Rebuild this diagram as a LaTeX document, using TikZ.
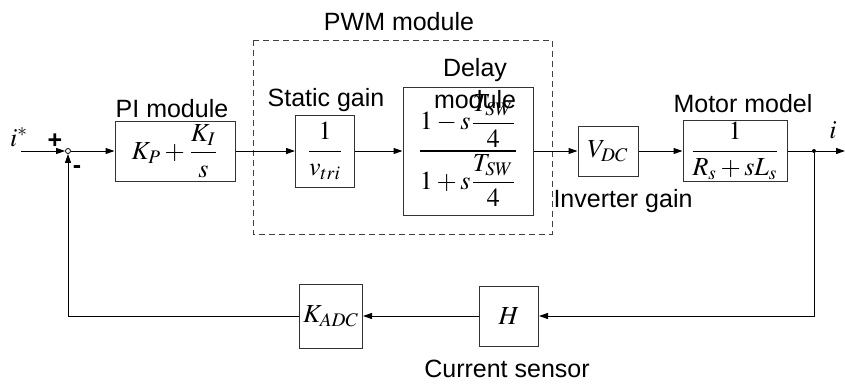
\documentclass[tikz,border=0pt]{standalone}
\usepackage{amsmath}
\usepackage{mathptmx}
\usepackage[no-math]{fontspec}
\setmainfont{Liberation Sans}
\usetikzlibrary{arrows.meta, positioning}

\begin{document}
\begin{tikzpicture}[
			x=0.5pt, y=-0.5pt,
			block/.style={draw=black!80, line width=0.5pt, inner sep=1pt, font=\fontsize{13}{15}\selectfont},
			arrow/.style={-{Triangle[length=4.5pt, width=3pt]}, line width=0.5pt},
			wire/.style={line width=0.5pt},
			caption/.style={font=\fontsize{12.5}{14}\selectfont, inner sep=0pt, align=center}
		]
		\useasboundingbox (0,0) rectangle (845,386);

		% forward path
		\coordinate (in) at (21,151);
		\node[circle, draw, fill=white, line width=0.4pt, minimum size=2.5pt, inner sep=0pt] (sum) at (68,151) {};
		\node[block, minimum width=60pt, minimum height=30pt] (pi) at (175,151) {$\displaystyle K_P+\frac{K_I}{s}$};
		\node[block, minimum width=29.5pt, minimum height=36pt] (stat) at (325,151) {$\displaystyle\frac{1}{v_{tri}}$};
		\node[block, minimum width=65pt, minimum height=64pt] (delay) at (468,151) {$\displaystyle\frac{1-s\dfrac{T_{SW}}{4}}{1+s\dfrac{T_{SW}}{4}}$};
		\node[block, minimum width=30pt, minimum height=25pt] (vdc) at (608,151) {$V_{DC}$};
		\node[block, minimum width=52pt, minimum height=30.5pt] (motor) at (735,151) {$\displaystyle\frac{1}{R_s+sL_s}$};
		\node[circle, fill, minimum size=2pt, inner sep=0pt] (branch) at (814,151) {};
		\coordinate (out) at (845,151);

		% feedback path
		\node[block, minimum width=29.5pt, minimum height=30pt] (sens) at (509,316) {$H$};
		\node[block, minimum width=31.5pt, minimum height=32pt] (adc) at (331,316) {$K_{ADC}$};

		% PWM group
		\draw[draw=black!75, line width=0.5pt, dash pattern=on 3pt off 2pt] (253,40) rectangle (552,234);

		% labels
		\node[caption] (pwmlbl) at (399,22) {PWM module};
		\node[caption] (pilbl) at (172,109) {PI module};
		\node[caption] (statlbl) at (326,100) {Static gain};
		\node[caption] (delaylbl) at (475,84) {Delay\\[2pt]module};
		\node[caption] (motorlbl) at (743,104) {Motor model};
		\node[caption] (vdclbl) at (623,201) {Inverter gain};
		\node[caption] (senslbl) at (507,369) {Current sensor};
		\node[font=\fontsize{13}{15}\selectfont, inner sep=0pt] (reflbl) at (19,137) {$i^*$};
		\node[font=\fontsize{13}{15}\selectfont, inner sep=0pt] (outlbl) at (833,130) {$i$};
		\node[caption] (plus) at (55,141) {\textbf{+}};
		\node[caption] (minus) at (77,170) {\textbf{-}};

		\draw[arrow] (in) -- (sum);
		\draw[arrow] (sum) -- (pi);
		\draw[arrow] (pi) -- (stat);
		\draw[arrow] (stat) -- (delay);
		\draw[arrow] (delay) -- (vdc);
		\draw[arrow] (vdc) -- (motor);
		\draw[wire] (motor) -- (branch);
		\draw[arrow] (branch) -- (out);
		\draw[arrow] (branch) |- (sens);
		\draw[arrow] (sens) -- (adc);
		\draw[arrow] (adc) -| (sum);
	\end{tikzpicture}
\end{document}
